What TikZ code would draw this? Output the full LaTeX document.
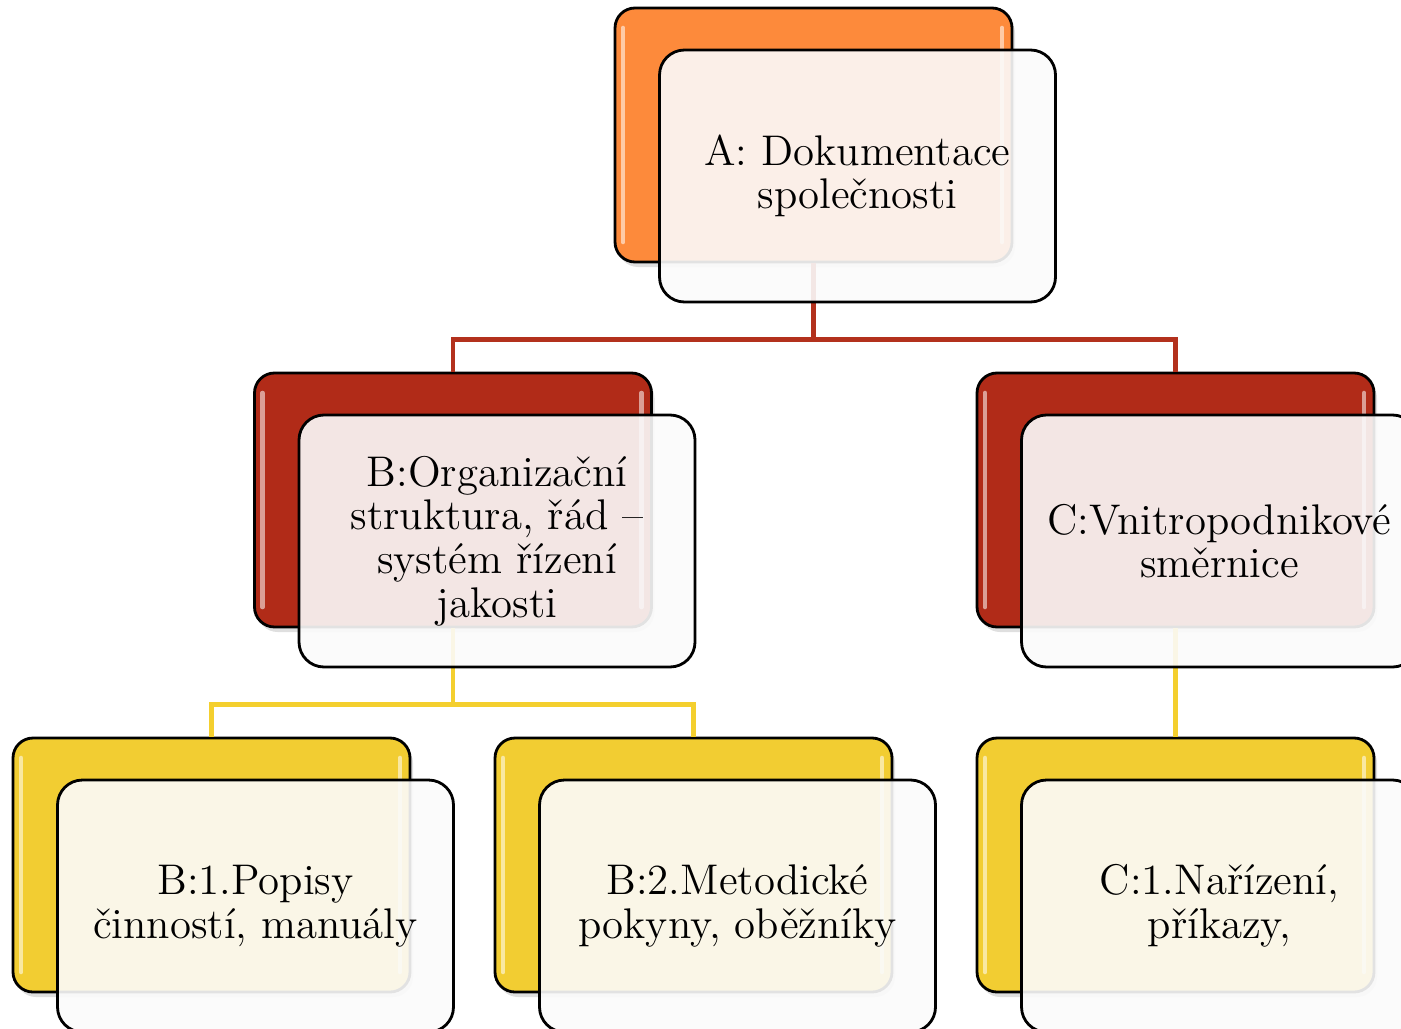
\documentclass[tikz,border=0pt]{standalone}
\usepackage{fontspec}
\usetikzlibrary{positioning,shadows}
\definecolor{orangebox}{HTML}{FD8A3B}
\definecolor{redbox}{HTML}{B12B18}
\definecolor{yellowbox}{HTML}{F2CD32}
\definecolor{linered}{HTML}{B3311D}
\definecolor{lineyellow}{HTML}{F4CF2E}
\begin{document}
\begin{tikzpicture}[
	backbox/.style={draw=black, line width=0.8pt, rounded corners=0.2cm,
		minimum width=3.97cm, minimum height=2.54cm, fill=#1,
		drop shadow={opacity=0.25, shadow xshift=0.03cm, shadow yshift=-0.05cm},
		path picture={\draw[white, opacity=0.55, line width=1.3pt, line cap=round]
			([shift={(0.08,-0.2)}]path picture bounding box.north west) -- ([shift={(0.08,0.2)}]path picture bounding box.south west)
			([shift={(-0.1,-0.2)}]path picture bounding box.north east) -- ([shift={(-0.1,0.2)}]path picture bounding box.south east);}},
	frontbox/.style={draw=black, line width=0.8pt, rounded corners=0.25cm,
		minimum width=3.96cm, minimum height=2.52cm, fill=gray!3, fill opacity=0.9,
		text opacity=1, align=center, font=\fontsize{12.2}{12.4}\selectfont},
	redline/.style={draw=linered, line width=1.2pt},
	yellowline/.style={draw=lineyellow, line width=1.2pt}]
	\useasboundingbox (0,0) rectangle (14.01,-10.28);
	\node[backbox=orangebox] (aback) at (8.135,-1.35) {};
	\node[backbox=redbox] (bback) at (4.53,-5) {};
	\node[backbox=redbox] (cback) at (11.755,-5) {};
	\node[backbox=yellowbox] (bfirstback) at (2.115,-8.65) {};
	\node[backbox=yellowbox] (bsecondback) at (6.935,-8.65) {};
	\node[backbox=yellowbox] (cfirstback) at (11.755,-8.65) {};
	\draw[redline] (aback.south) -- ++(0,-0.76) coordinate (ajoin) -| (bback.north);
	\draw[redline] (ajoin) -| (cback.north);
	\draw[yellowline] (bback.south) -- ++(0,-0.76) coordinate (bjoin) -| (bfirstback.north);
	\draw[yellowline] (bjoin) -| (bsecondback.north);
	\draw[yellowline] (cback.south) -- (cfirstback.north);
	\node[frontbox] (afront) at ([shift={(0.44,-0.41)}]aback.center) {A: Dokumentace\\společnosti};
	\node[frontbox] (bfront) at ([shift={(0.44,-0.41)}]bback.center) {B:Organizační\\struktura, řád –\\systém řízení\\jakosti};
	\node[frontbox] (cfront) at ([shift={(0.44,-0.41)}]cback.center) {C:Vnitropodnikové\\směrnice};
	\node[frontbox] (bfirstfront) at ([shift={(0.44,-0.41)}]bfirstback.center) {B:1.Popisy\\činností, manuály};
	\node[frontbox] (bsecondfront) at ([shift={(0.44,-0.41)}]bsecondback.center) {B:2.Metodické\\pokyny, oběžníky};
	\node[frontbox] (cfirstfront) at ([shift={(0.44,-0.41)}]cfirstback.center) {C:1.Nařízení,\\příkazy,};
\end{tikzpicture}
\end{document}
